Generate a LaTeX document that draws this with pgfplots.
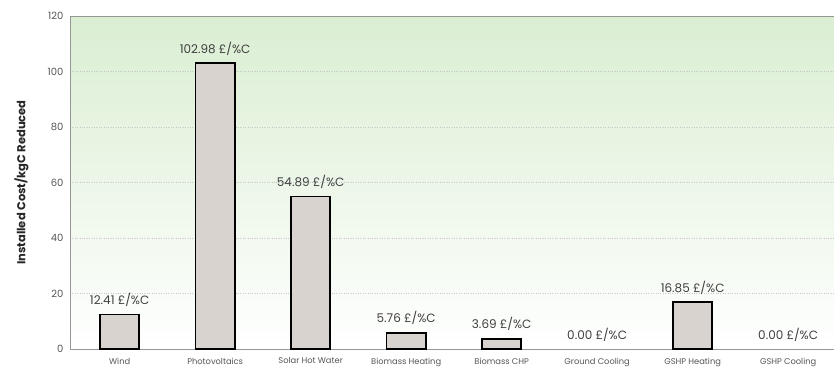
\documentclass[border=0pt]{standalone}
\usepackage{fontspec}
\setmainfont{Poppins}
\usepackage{pgfplots}
\pgfplotsset{compat=1.18}
\usetikzlibrary{calc}

\definecolor{barfill}{RGB}{216,211,207}
\definecolor{axisgray}{RGB}{150,150,150}
\definecolor{topgreen}{RGB}{218,238,210}
\definecolor{labelgray}{RGB}{85,85,85}

\begin{document}
\begin{tikzpicture}
\begin{axis}[
  name=ax,
  width=764pt, height=333pt, scale only axis,
  xmin=-0.52, xmax=7.48,
  ymin=0, ymax=120,
  ytick={0,20,...,120},
  xtick={0,...,7},
  xticklabels={Wind,Photovoltaics,Solar Hot Water,Biomass Heating,Biomass CHP,Ground Cooling,GSHP Heating,GSHP Cooling},
  axis x line*=bottom, axis y line*=left,
  axis line style={draw=axisgray, line width=0.8pt},
  xtick style={draw=none},
  ytick style={draw=none},
  ymajorgrids,
  grid style={dotted, line width=0.6pt, gray!45},
  axis background/.style={top color=topgreen, middle color=white, bottom color=white},
  ylabel={Installed Cost/kgC Reduced},
  ylabel style={font=\bfseries\fontsize{11.5}{13}\selectfont, text=black!85, at={(axis description cs:0,0.5)}, yshift=38pt},
  yticklabel style={font=\fontsize{10}{11}\selectfont, text=labelgray, xshift=-3pt},
  xticklabel style={font=\fontsize{8.3}{9}\selectfont, text=labelgray, yshift=-1pt},
  /pgf/number format/assume math mode=true,
  ybar, bar width=0.41, bar shift=0pt,
  nodes near coords={\pgfmathprintnumber[fixed,fixed zerofill,precision=2]{\pgfplotspointmeta}~£/\%C},
  nodes near coords style={font=\fontsize{12}{13}\selectfont, text=black!75, yshift=4pt},
]
% bars with a positive cost
\addplot[fill=barfill, draw=black, line width=1.6pt] coordinates {
  (0,12.41) (1,102.98) (2,54.89) (3,5.76) (4,3.69) (6,16.85)
};
% technologies with no cost: label only
\addplot[draw=none, fill=none] coordinates {
  (5,0.00) (7,0.00)
};
\draw[axisgray, line width=0.8pt] (rel axis cs:0,1) -- (rel axis cs:1,1);
\end{axis}
\pgfresetboundingbox
\path ($(ax.south west)+(-70pt,-24pt)$) rectangle ($(ax.north east)+(0pt,16pt)$);
\end{tikzpicture}
\end{document}
